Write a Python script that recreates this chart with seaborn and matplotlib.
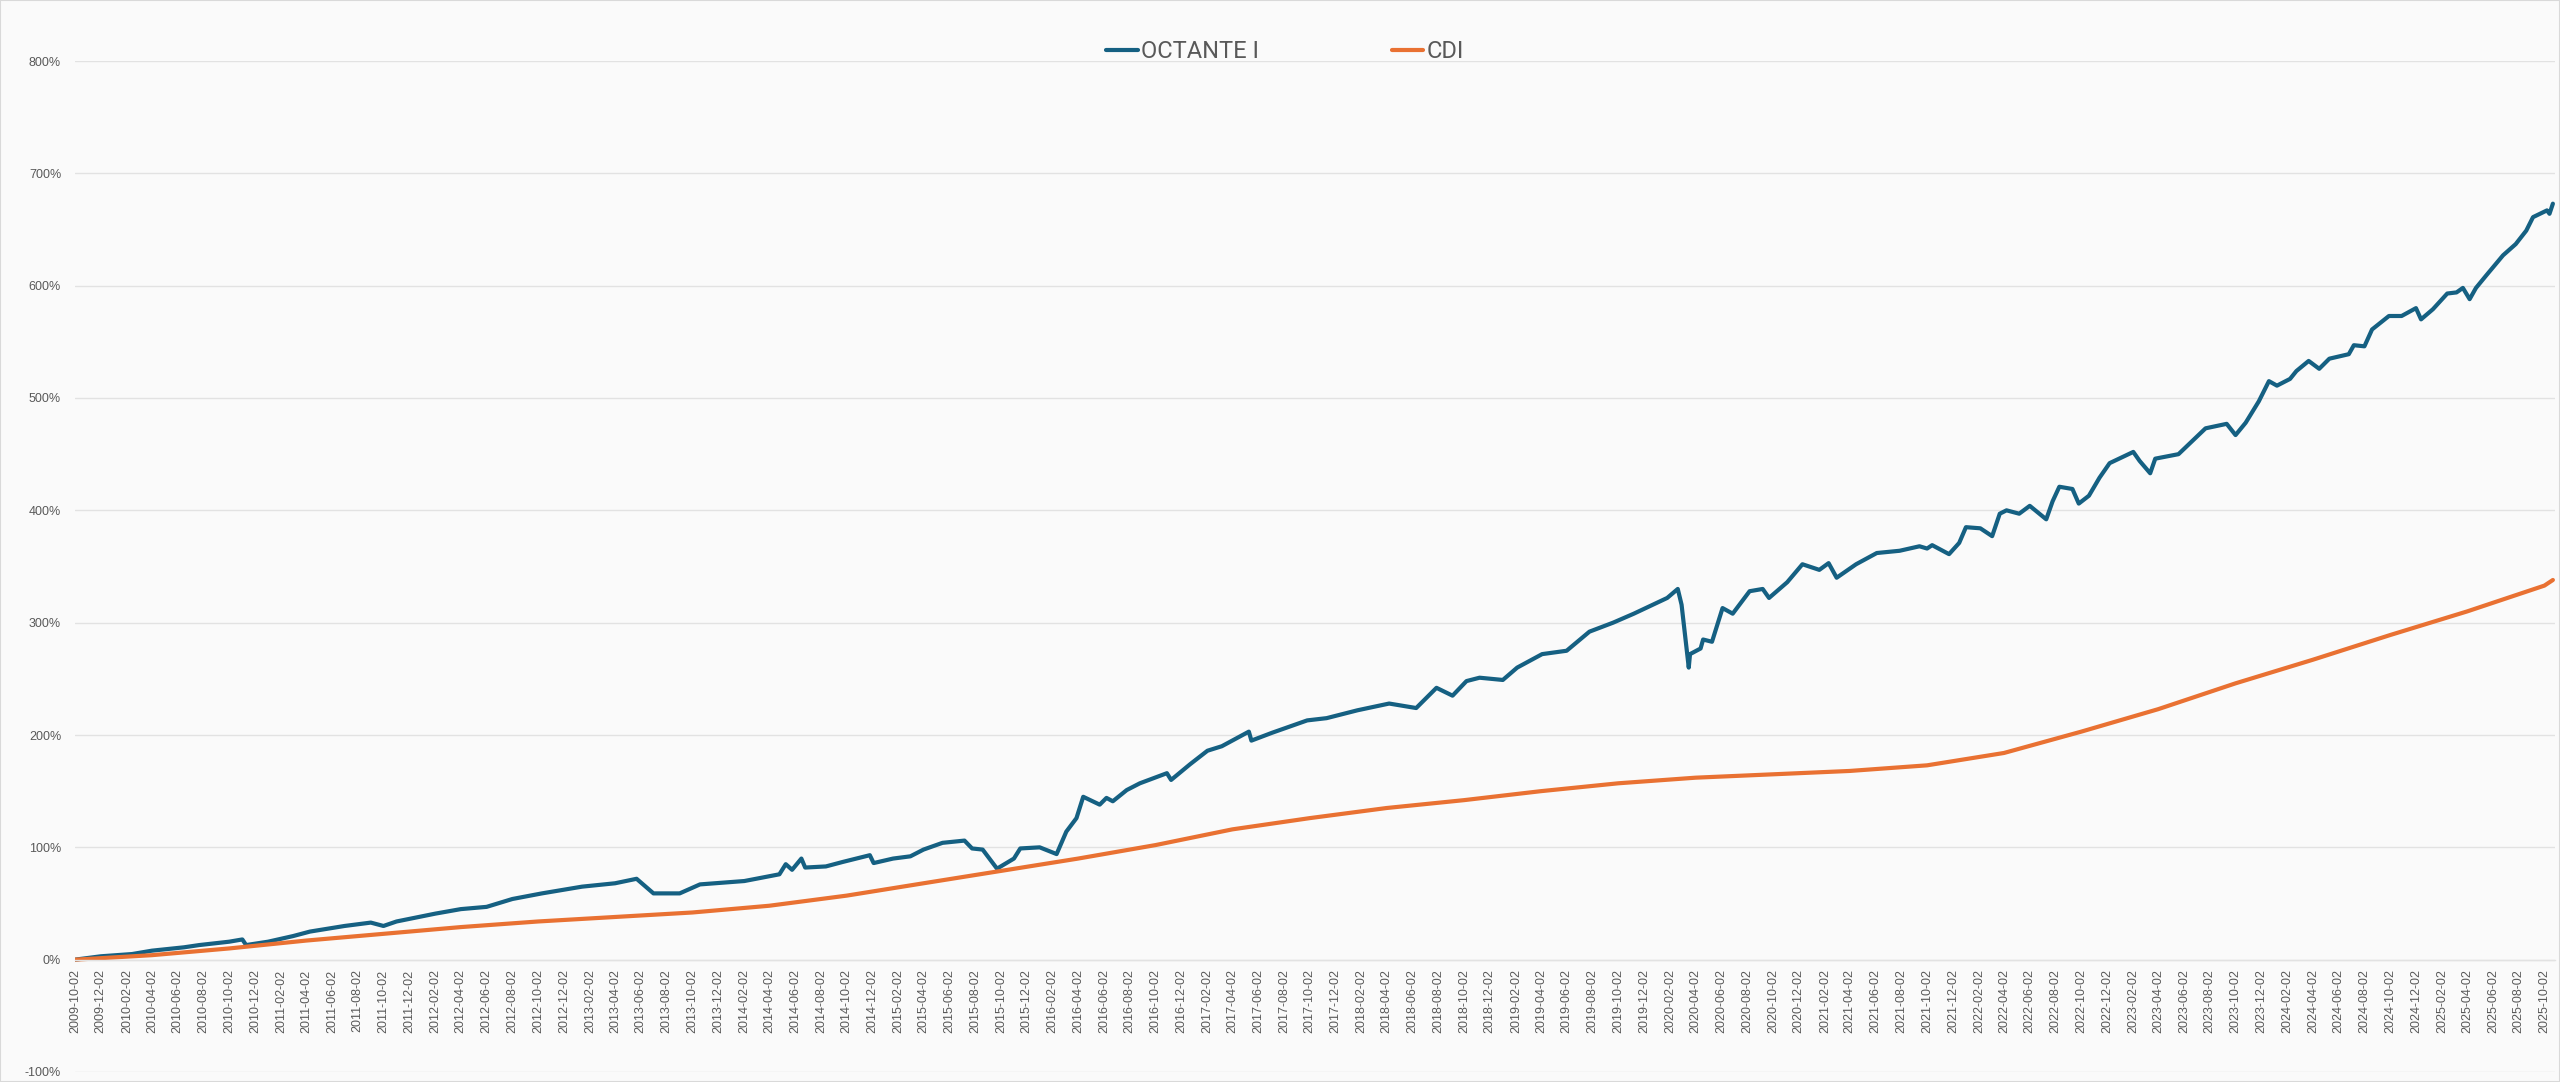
import pandas as pd
import seaborn as sns
import matplotlib.pyplot as plt
from matplotlib.lines import Line2D
from matplotlib.patches import Rectangle
from matplotlib.ticker import FixedLocator, FixedFormatter
import matplotlib.dates as mdates

# OCTANTE I - cumulative return (%)
octante_dates = [
    '2009-10-02', '2009-12-02', '2010-02-14', '2010-04-02', '2010-06-17', '2010-07-23',
    '2010-10-02', '2010-11-02', '2010-11-11', '2011-01-02', '2011-03-02', '2011-04-11',
    '2011-07-02', '2011-09-02', '2011-10-02', '2011-11-02', '2012-02-02', '2012-04-02',
    '2012-06-02', '2012-08-02', '2012-10-11', '2013-01-14', '2013-04-02', '2013-05-23',
    '2013-07-02', '2013-09-02', '2013-10-20', '2014-02-02', '2014-04-26', '2014-05-11',
    '2014-05-26', '2014-06-17', '2014-06-26', '2014-08-14', '2014-09-23', '2014-11-26',
    '2014-12-05', '2015-01-20', '2015-03-02', '2015-04-02', '2015-05-17', '2015-07-08',
    '2015-07-26', '2015-08-20', '2015-09-23', '2015-11-02', '2015-11-17', '2016-01-02',
    '2016-02-11', '2016-03-05', '2016-03-29', '2016-04-14', '2016-05-23', '2016-06-08',
    '2016-06-23', '2016-07-26', '2016-08-26', '2016-10-29', '2016-11-08', '2016-12-23',
    '2017-02-02', '2017-03-08', '2017-05-11', '2017-05-17', '2017-07-05', '2017-09-26',
    '2017-11-11', '2018-01-23', '2018-04-08', '2018-06-11', '2018-07-29', '2018-09-05',
    '2018-10-08', '2018-11-08', '2019-01-02', '2019-02-05', '2019-04-05', '2019-06-02',
    '2019-07-26', '2019-09-20', '2019-11-08', '2019-12-23', '2020-01-26', '2020-02-20',
    '2020-02-29', '2020-03-17', '2020-03-20', '2020-04-14', '2020-04-20', '2020-05-11',
    '2020-06-05', '2020-06-29', '2020-08-08', '2020-09-08', '2020-09-23', '2020-11-05',
    '2020-12-11', '2021-01-20', '2021-02-11', '2021-03-02', '2021-04-17', '2021-06-05',
    '2021-07-29', '2021-09-14', '2021-10-02', '2021-10-14', '2021-11-23', '2021-12-17',
    '2022-01-02', '2022-02-05', '2022-03-05', '2022-03-23', '2022-04-08', '2022-05-08',
    '2022-06-02', '2022-07-11', '2022-07-26', '2022-08-11', '2022-09-11', '2022-09-26',
    '2022-10-20', '2022-11-14', '2022-12-08', '2023-02-02', '2023-02-17', '2023-03-14',
    '2023-03-26', '2023-05-20', '2023-06-14', '2023-07-23', '2023-09-11', '2023-10-02',
    '2023-10-26', '2023-11-26', '2023-12-20', '2024-01-08', '2024-02-08', '2024-02-23',
    '2024-03-23', '2024-04-17', '2024-05-11', '2024-06-26', '2024-07-08', '2024-08-02',
    '2024-08-20', '2024-09-29', '2024-10-29', '2024-12-02', '2024-12-14', '2025-01-11',
    '2025-02-14', '2025-03-08', '2025-03-23', '2025-04-08', '2025-04-23', '2025-05-17',
    '2025-06-26', '2025-07-26', '2025-08-20', '2025-09-05', '2025-10-08', '2025-10-14',
    '2025-10-22',
]
octante_values = [
    0, 3, 5, 8, 11, 13,
    16, 18, 13, 16, 21, 25,
    30, 33, 30, 34, 41, 45,
    47, 54, 59, 65, 68, 72,
    59, 59, 67, 70, 76, 85,
    80, 90, 82, 83, 87, 93,
    86, 90, 92, 98, 104, 106,
    99, 98, 81, 90, 99, 100,
    94, 114, 126, 145, 138, 144,
    141, 151, 157, 166, 160, 174,
    186, 190, 203, 195, 202, 213,
    215, 222, 228, 224, 242, 235,
    248, 251, 249, 260, 272, 275,
    292, 300, 308, 316, 322, 330,
    316, 260, 272, 277, 285, 283,
    313, 308, 328, 330, 322, 336,
    352, 347, 353, 340, 352, 362,
    364, 368, 366, 369, 361, 371,
    385, 384, 377, 397, 400, 397,
    404, 392, 408, 421, 419, 406,
    413, 429, 442, 452, 444, 433,
    446, 450, 459, 473, 477, 467,
    478, 497, 515, 511, 517, 524,
    533, 526, 535, 539, 547, 546,
    561, 573, 573, 580, 570, 579,
    593, 594, 598, 588, 598, 609,
    627, 637, 649, 661, 667, 664,
    673,
]

# CDI - cumulative return (%)
cdi_dates = [
    '2009-10-02', '2010-04-02', '2010-10-02', '2011-04-02', '2011-10-02', '2012-04-02',
    '2012-10-02', '2013-04-02', '2013-10-02', '2014-04-02', '2014-10-02', '2015-04-02',
    '2015-10-02', '2016-04-02', '2016-10-02', '2017-04-02', '2017-10-02', '2018-04-02',
    '2018-10-02', '2019-04-02', '2019-10-02', '2020-04-02', '2020-10-02', '2021-04-02',
    '2021-10-02', '2022-04-02', '2022-10-02', '2023-04-02', '2023-10-02', '2024-04-02',
    '2024-10-02', '2025-04-02', '2025-10-02', '2025-10-22',
]
cdi_values = [
    0, 4, 10, 17, 23, 29,
    34, 38, 42, 48, 57, 68,
    79, 90, 102, 116, 126, 135,
    142, 150, 157, 162, 165, 168,
    173, 184, 203, 223, 246, 267,
    289, 310, 333, 338,
]

y_ticks = list(range(-100, 801, 100))
series_colors = {'OCTANTE I': '#156082', 'CDI': '#E97132'}

df_oct = pd.DataFrame({'date': pd.to_datetime(octante_dates), 'value': octante_values, 'serie': 'OCTANTE I'})
df_cdi = pd.DataFrame({'date': pd.to_datetime(cdi_dates), 'value': cdi_values, 'serie': 'CDI'})
df = pd.concat([df_oct, df_cdi], ignore_index=True)

sns.set_theme(style='whitegrid')
plt.rcParams['font.family'] = ['Liberation Sans', 'DejaVu Sans']

bg = '#fafafa'
txt = '#595959'
fig = plt.figure(figsize=(25.6, 10.82), dpi=100, facecolor=bg)
ax = fig.add_axes([75 / 2560, 10 / 1082, 2480 / 2560, 1011 / 1082])
ax.set_facecolor(bg)

sns.lineplot(data=df, x='date', y='value', hue='serie', palette=series_colors,
             linewidth=3, estimator=None, sort=False, legend=False, ax=ax)

# axes
ax.set_ylim(-100, 800)
ax.set_xlim(pd.Timestamp('2009-10-02'), pd.Timestamp('2025-10-27'))
ax.set_yticks(y_ticks)
ax.set_yticklabels([f'{v}%' for v in y_ticks], fontsize=9, color=txt)

tick_dates = pd.date_range('2009-10-01', '2025-10-01', freq='2MS') + pd.Timedelta(days=1)
ax.xaxis.set_major_locator(FixedLocator(mdates.date2num(tick_dates)))
ax.xaxis.set_major_formatter(FixedFormatter([d.strftime('%Y-%m-%d') for d in tick_dates]))
ax.tick_params(axis='x', length=0, pad=7, labelrotation=90, labelsize=9, labelcolor=txt)
ax.tick_params(axis='y', length=0, pad=10)
ax.set_xlabel('')
ax.set_ylabel('')

ax.grid(axis='x', visible=False)
ax.grid(axis='y', color='#e2e2e2', linewidth=1)
for s in ['top', 'left', 'right']:
    ax.spines[s].set_visible(False)
ax.spines['bottom'].set_position(('data', 0))
ax.spines['bottom'].set_color('#e2e2e2')
ax.spines['bottom'].set_linewidth(1)

# legend
handles = [Line2D([0], [0], color=series_colors[k], linewidth=3) for k in series_colors]
leg = fig.legend(handles, list(series_colors), loc='center', bbox_to_anchor=(0.502, 0.952),
                 ncol=2, frameon=False, handlelength=1.35, handletextpad=0.15, columnspacing=5.6,
                 prop={'family': 'Roboto', 'size': 17})
for t in leg.get_texts():
    t.set_color(txt)

# chart border
fig.patches.append(Rectangle((0, 0), 1, 1, transform=fig.transFigure, fill=False,
                             edgecolor='#d9d9d9', linewidth=1.5))

fig.savefig('out.png', dpi=100, facecolor=fig.get_facecolor())
